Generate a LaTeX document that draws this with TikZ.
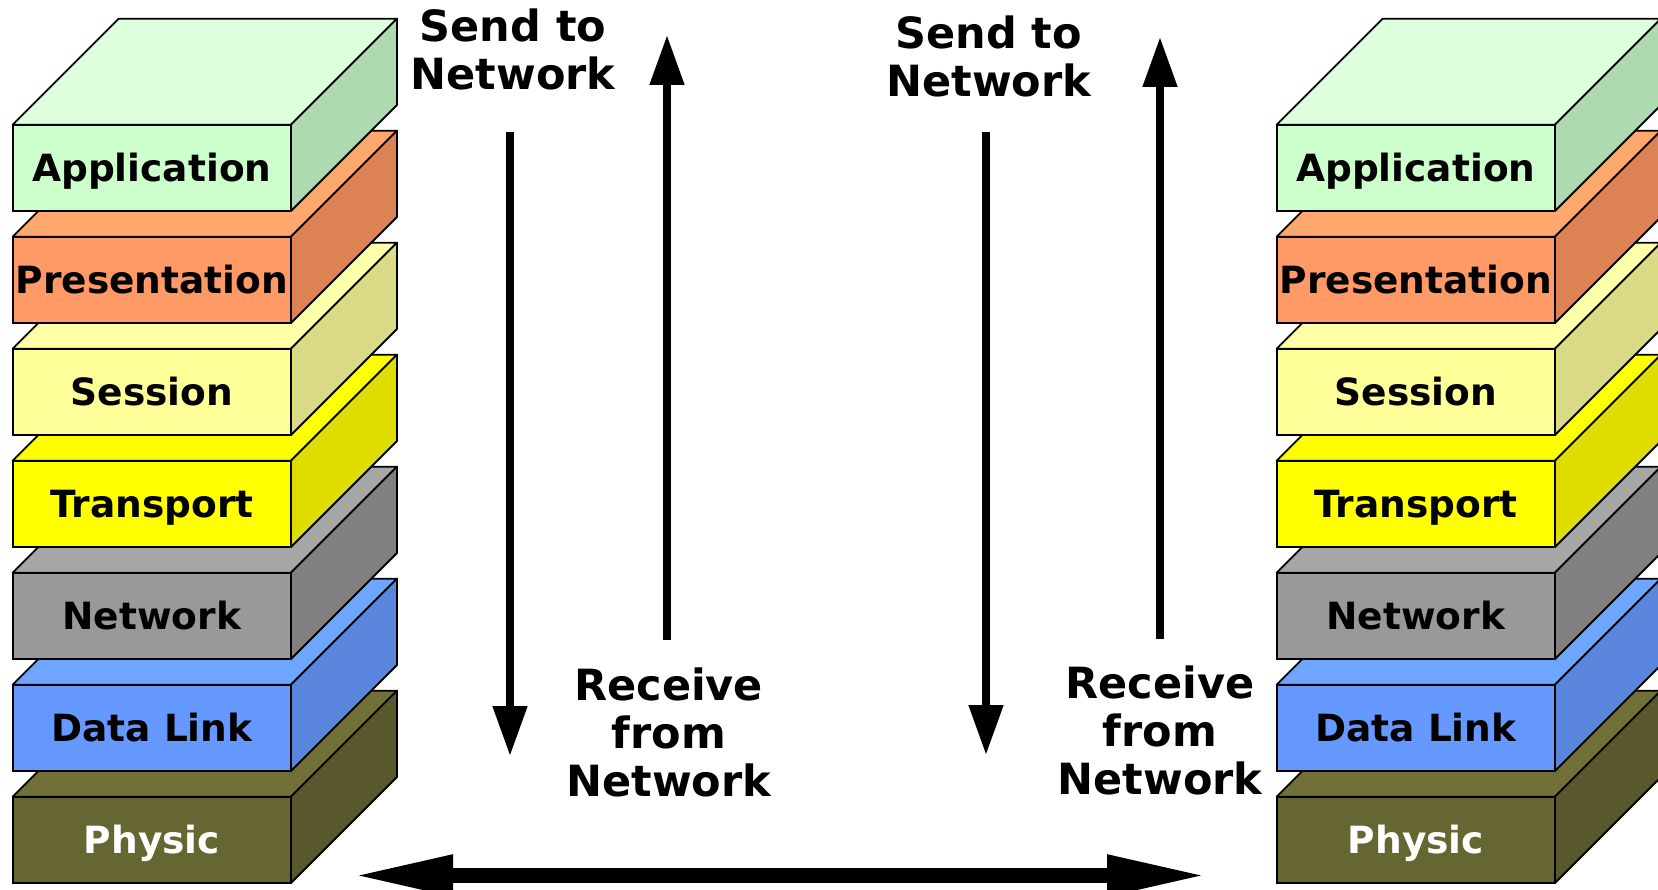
\documentclass[tikz,border=0pt]{standalone}
\usepackage{fontspec}
\setmainfont{DejaVu Sans}
\usetikzlibrary{arrows.meta}
\definecolor{appF}{HTML}{CCFFCC}\definecolor{appT}{HTML}{DDFFDD}\definecolor{appS}{HTML}{AFDAAF}
\definecolor{preF}{HTML}{FF9966}\definecolor{preT}{HTML}{FFA86E}\definecolor{preS}{HTML}{DC8255}
\definecolor{sesF}{HTML}{FFFF99}\definecolor{sesT}{HTML}{FFFFA8}\definecolor{sesS}{HTML}{DADA87}
\definecolor{traF}{HTML}{FFFF00}\definecolor{traT}{HTML}{FFFF00}\definecolor{traS}{HTML}{DDDD00}
\definecolor{netF}{HTML}{999999}\definecolor{netT}{HTML}{A6A6A6}\definecolor{netS}{HTML}{808080}
\definecolor{dlkF}{HTML}{6699FF}\definecolor{dlkT}{HTML}{6EA6FF}\definecolor{dlkS}{HTML}{5A86DD}
\definecolor{phyF}{HTML}{666633}\definecolor{phyT}{HTML}{707038}\definecolor{phyS}{HTML}{58582C}
\tikzset{
  layer/.style={draw=black, line width=1.8pt, minimum width=278.3pt, minimum height=86.3pt,
    anchor=north west, inner sep=0pt, outer sep=0pt, text height=27.3pt, text depth=0pt,
    font=\fontsize{37.5pt}{45pt}\selectfont\bfseries},
  face/.style={draw=black, line width=1.8pt, line join=round},
  flow/.style={line width=8pt, -{Triangle[length=50pt,width=33pt]}},
  link/.style={line width=14.4pt, {Triangle[length=100pt,width=38pt]}-{Triangle[length=100pt,width=38pt]}},
  lbl/.style={anchor=base, align=center, inner sep=0pt, font=\fontsize{43pt}{48pt}\selectfont\bfseries}
}
\newcommand\osilayer[8]{%
  \node[layer, fill=#4, text=#8] (#1) at (#2,#3) {#7};
  \filldraw[face, fill=#5] (#1.north west) -- ++(106,-106) -- ++(278.3,0) -- (#1.north east) -- cycle;
  \filldraw[face, fill=#6] (#1.north east) -- ++(106,-106) -- ++(0,86.3) -- (#1.south east) -- cycle;
}
\begin{document}
\begin{tikzpicture}[x=1pt,y=-1pt]
\useasboundingbox (0,0) rectangle (1658,890);
\foreach \sx/\p in {12.7/L,1276.7/R}{
  \osilayer{\p phy}{\sx}{796.7}{phyF}{phyT}{phyS}{Physic}{white}
  \osilayer{\p dlk}{\sx}{684.7}{dlkF}{dlkT}{dlkS}{Data Link}{black}
  \osilayer{\p net}{\sx}{572.7}{netF}{netT}{netS}{Network}{black}
  \osilayer{\p tra}{\sx}{460.7}{traF}{traT}{traS}{Transport}{black}
  \osilayer{\p ses}{\sx}{348.7}{sesF}{sesT}{sesS}{Session}{black}
  \osilayer{\p pre}{\sx}{236.7}{preF}{preT}{preS}{Presentation}{black}
  \osilayer{\p app}{\sx}{124.7}{appF}{appT}{appS}{Application}{black}
}
% arrows
\coordinate (d1s) at (510,131.7); \coordinate (d1e) at (510,756);
\coordinate (u1s) at (667,640);   \coordinate (u1e) at (667,35);
\coordinate (d2s) at (986,131.7); \coordinate (d2e) at (986,755);
\coordinate (u2s) at (1160,639.3); \coordinate (u2e) at (1160,37);
\coordinate (bl) at (353,875.5); \coordinate (br) at (1207,875.5);
\draw[flow] (d1s) -- (d1e);
\draw[flow] (u1s) -- (u1e);
\draw[flow] (d2s) -- (d2e);
\draw[flow] (u2s) -- (u2e);
\draw[link] (bl) -- (br);
% labels (base anchor = baseline of the last line)
\node[lbl] (send1) at (513,90) {Send to\\Network};
\node[lbl] (send2) at (988.7,96.3) {Send to\\Network};
\node[lbl] (recv1) at (668.7,796.7) {Receive\\from\\Network};
\node[lbl] (recv2) at (1160,794.6) {Receive\\from\\Network};
\end{tikzpicture}
\end{document}
